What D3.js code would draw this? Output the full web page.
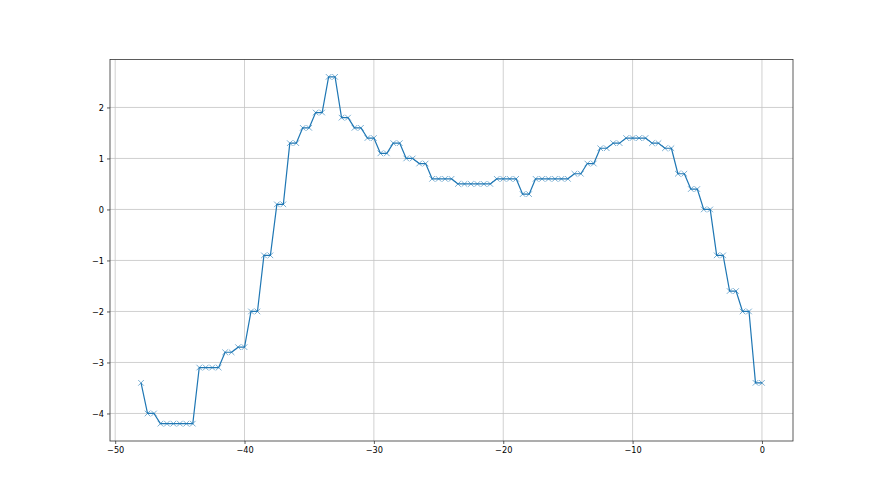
<!DOCTYPE html>
<html>
<head>
<meta charset="utf-8">
<script src="https://cdn.jsdelivr.net/npm/d3@7"></script>
<style>
  body { margin: 0; background: #fff; }
  #chart text { font-family: "DejaVu Sans", sans-serif; font-size: 8.2px; fill: #000; }
</style>
</head>
<body>
<div id="chart"></div>
<script>
        const width = 880;
        const height = 495;

        // x positions of the samples (step 0.5)
        const xValues = [
            -48, -47.5, -47, -46.5, -46, -45.5, -45, -44.5, -44, -43.5,
            -43, -42.5, -42, -41.5, -41, -40.5, -40, -39.5, -39, -38.5,
            -38, -37.5, -37, -36.5, -36, -35.5, -35, -34.5, -34, -33.5,
            -33, -32.5, -32, -31.5, -31, -30.5, -30, -29.5, -29, -28.5,
            -28, -27.5, -27, -26.5, -26, -25.5, -25, -24.5, -24, -23.5,
            -23, -22.5, -22, -21.5, -21, -20.5, -20, -19.5, -19, -18.5,
            -18, -17.5, -17, -16.5, -16, -15.5, -15, -14.5, -14, -13.5,
            -13, -12.5, -12, -11.5, -11, -10.5, -10, -9.5, -9, -8.5,
            -8, -7.5, -7, -6.5, -6, -5.5, -5, -4.5, -4, -3.5,
            -3, -2.5, -2, -1.5, -1, -0.5, 0
        ];

        const yValues = [
            -3.4, -4.0, -4.0, -4.2, -4.2, -4.2, -4.2, -4.2, -4.2, -3.1,
            -3.1, -3.1, -3.1, -2.8, -2.8, -2.7, -2.7, -2.0, -2.0, -0.9,
            -0.9, 0.1, 0.1, 1.3, 1.3, 1.6, 1.6, 1.9, 1.9, 2.6,
            2.6, 1.8, 1.8, 1.6, 1.6, 1.4, 1.4, 1.1, 1.1, 1.3,
            1.3, 1.0, 1.0, 0.9, 0.9, 0.6, 0.6, 0.6, 0.6, 0.5,
            0.5, 0.5, 0.5, 0.5, 0.5, 0.6, 0.6, 0.6, 0.6, 0.3,
            0.3, 0.6, 0.6, 0.6, 0.6, 0.6, 0.6, 0.7, 0.7, 0.9,
            0.9, 1.2, 1.2, 1.3, 1.3, 1.4, 1.4, 1.4, 1.4, 1.3,
            1.3, 1.2, 1.2, 0.7, 0.7, 0.4, 0.4, 0.0, 0.0, -0.9,
            -0.9, -1.6, -1.6, -2.0, -2.0, -3.4, -3.4
        ];

        const xTicks = [-50, -40, -30, -20, -10, 0];
        const yTicks = [-4, -3, -2, -1, 0, 1, 2];

        const data = xValues.map((x, i) => ({ x: x, y: yValues[i] }));

        const margin = { top: 59.5, right: 87, bottom: 54, left: 110 };
        const innerW = width - margin.left - margin.right;
        const innerH = height - margin.top - margin.bottom;

        const svg = d3.select("#chart")
                      .append("svg")
                      .attr("width", width)
                      .attr("height", height);

        // matplotlib style 5% margins
        const xExt = d3.extent(xValues);
        const yExt = d3.extent(yValues);
        const xPad = (xExt[1] - xExt[0]) * 0.05;
        const yPad = (yExt[1] - yExt[0]) * 0.05;

        const x = d3.scaleLinear()
                    .domain([xExt[0] - xPad, xExt[1] + xPad])
                    .range([margin.left, margin.left + innerW]);
        const y = d3.scaleLinear()
                    .domain([yExt[0] - yPad, yExt[1] + yPad])
                    .range([margin.top + innerH, margin.top]);

        // grid
        const grid = svg.append("g").attr("class", "grid");
        grid.selectAll(".vgrid")
            .data(xTicks)
            .enter()
            .append("line")
            .attr("x1", d => x(d)).attr("x2", d => x(d))
            .attr("y1", margin.top).attr("y2", margin.top + innerH)
            .attr("stroke", "#c4c4c4").attr("stroke-width", 0.8);
        grid.selectAll(".hgrid")
            .data(yTicks)
            .enter()
            .append("line")
            .attr("x1", margin.left).attr("x2", margin.left + innerW)
            .attr("y1", d => y(d)).attr("y2", d => y(d))
            .attr("stroke", "#c4c4c4").attr("stroke-width", 0.8);

        // line
        const line = d3.line().x(d => x(d.x)).y(d => y(d.y));
        svg.append("path")
           .datum(data)
           .attr("fill", "none")
           .attr("stroke", "#1f77b4")
           .attr("stroke-width", 1.2)
           .attr("stroke-linejoin", "round")
           .attr("d", line);

        // 'x' markers
        const m = 2.8;
        svg.append("g")
           .selectAll("path")
           .data(data)
           .enter()
           .append("path")
           .attr("d", d => {
               const cx = x(d.x), cy = y(d.y);
               return `M${cx - m},${cy - m}L${cx + m},${cy + m}M${cx - m},${cy + m}L${cx + m},${cy - m}`;
           })
           .attr("stroke", "#1f77b4")
           .attr("stroke-opacity", 0.75)
           .attr("stroke-width", 0.8)
           .attr("fill", "none");

        // axes
        const xAxis = d3.axisBottom(x).tickValues(xTicks).tickSize(3).tickPadding(3)
                        .tickFormat(d => d < 0 ? "\u2212" + Math.abs(d) : d);
        const yAxis = d3.axisLeft(y).tickValues(yTicks).tickSize(3).tickPadding(3)
                        .tickFormat(d => d < 0 ? "\u2212" + Math.abs(d) : d);

        const gx = svg.append("g")
           .attr("transform", `translate(0,${margin.top + innerH})`)
           .call(xAxis);
        const gy = svg.append("g")
           .attr("transform", `translate(${margin.left},0)`)
           .call(yAxis);

        [gx, gy].forEach(g => {
            g.select(".domain").remove();
            g.selectAll(".tick line").attr("stroke", "#333").attr("stroke-width", 0.8);
            g.selectAll(".tick text").attr("font-family", null).attr("font-size", null);
        });

        // frame
        svg.append("rect")
           .attr("x", margin.left)
           .attr("y", margin.top)
           .attr("width", innerW)
           .attr("height", innerH)
           .attr("fill", "none")
           .attr("stroke", "#333")
           .attr("stroke-width", 0.8);
</script>
</body>
</html>
